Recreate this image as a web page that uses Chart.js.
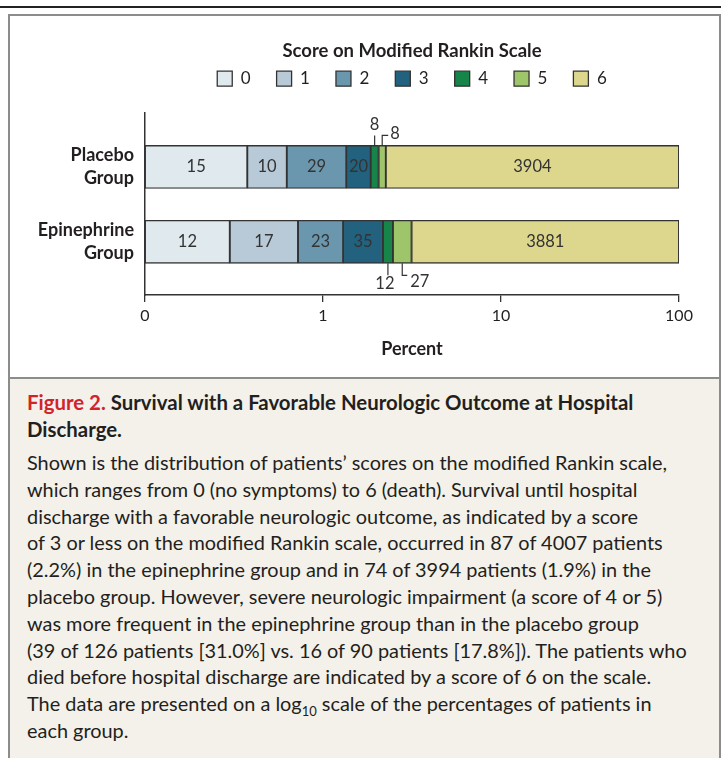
<!DOCTYPE html>
<html>
<head>
<meta charset="utf-8">
<script src="https://cdn.jsdelivr.net/npm/chart.js@4/dist/chart.umd.min.js"></script>
<style>
  body { margin: 0; background: #fff; font-family: Lato, "Open Sans", sans-serif; color: #231f20; }
  #topline { position: absolute; left: 0; top: 6px; width: 721px; height: 2px; background: #222; }
  #box { position: absolute; left: 8px; top: 14px; width: 709px; height: 760px; border: 2px solid #8c8c8c; border-bottom: none; }
  #panel { position: relative; width: 707px; height: 361px; background: #fff; }
  #caption { border-top: 2px solid #8c8c8c; background: #f4f1ea; height: 400px; padding: 10px 0 0 17px; box-sizing: border-box; }
  #caption .title { font-weight: bold; font-size: 20.4px; line-height: 27px; white-space: nowrap; }
  #caption .title span { color: #d2232a; }
  #caption .body { margin-top: 6px; font-size: 19.9px; line-height: 26.8px; white-space: nowrap; }
  #caption sub { font-size: 13px; line-height: 0; }
</style>
</head>
<body>
<div id="topline"></div>
<div id="box">
  <div id="panel"><canvas id="rankinChart" width="707" height="361"></canvas></div>
  <div id="caption">
    <div class="title"><span>Figure 2.</span> Survival with a Favorable Neurologic Outcome at Hospital<br>Discharge.</div>
    <div class="body">
      Shown is the distribution of patients’ scores on the modified Rankin scale,<br>
      which ranges from 0 (no symptoms) to 6 (death). Survival until hospital<br>
      discharge with a favorable neurologic outcome, as indicated by a score<br>
      of 3 or less on the modified Rankin scale, occurred in 87 of 4007 patients<br>
      (2.2%) in the epinephrine group and in 74 of 3994 patients (1.9%) in the<br>
      placebo group. However, severe neurologic impairment (a score of 4 or 5)<br>
      was more frequent in the epinephrine group than in the placebo group<br>
      (39 of 126 patients [31.0%] vs. 16 of 90 patients [17.8%]). The patients who<br>
      died before hospital discharge are indicated by a score of 6 on the scale.<br>
      The data are presented on a log<sub>10</sub> scale of the percentages of patients in<br>
      each group.
    </div>
  </div>
</div>

<script>
// dados
const scores = ['0', '1', '2', '3', '4', '5', '6'];
const groupLabels = [['Placebo', 'Group'], ['Epinephrine', 'Group']];
const placeboCounts = [15, 10, 29, 20, 8, 8, 3904];
const epinephrineCounts = [12, 17, 23, 35, 12, 27, 3881];
const xTicks = [0.1, 1, 10, 100];   // 0.1 is shown as "0"
const scoreColors = ['#dfe9ee', '#b8cad7', '#6b97ae', '#22627e', '#178449', '#9fc56b', '#ddd68d'];

// small segments labelled outside the bar (group index -> score -> style)
const callouts = [{ 4: 'up', 5: 'upRight' }, { 4: 'down', 5: 'downRight' }];

const FONT = 'Lato, "Open Sans", sans-serif';
const groups = [placeboCounts, epinephrineCounts];

function toPercent(counts) {
    const total = counts.reduce((a, b) => a + b, 0);
    return counts.map(c => c / total * 100);
}
const groupPercents = groups.map(toPercent);

const datasets = scores.map((s, k) => ({
    label: s,
    stack: 'all',
    data: groupPercents.map((p, i) => ({ x: p[k], y: i })),
    backgroundColor: scoreColors[k],
    borderColor: '#333',
    borderWidth: 1.3,
    borderSkipped: false,
    barThickness: 43
}));

// desenha os números dentro das barras e as chamadas dos segmentos pequenos
const countLabels = {
    id: 'countLabels',
    afterDatasetsDraw(chart) {
        const ctx = chart.ctx;
        ctx.save();
        ctx.fillStyle = '#333';
        ctx.strokeStyle = '#333';
        ctx.lineWidth = 1.2;
        ctx.font = '16.5px ' + FONT;
        chart.data.datasets.forEach((ds, k) => {
            const meta = chart.getDatasetMeta(k);
            meta.data.forEach((bar, i) => {
                const text = String(groups[i][k]);
                const cx = (bar.x + bar.base) / 2;
                const top = bar.y - bar.height / 2;
                const bottom = bar.y + bar.height / 2;
                const style = callouts[i][k];
                ctx.beginPath();
                if (!style) {
                    ctx.textAlign = 'center';
                    ctx.textBaseline = 'middle';
                    ctx.fillText(text, cx, bar.y);
                } else if (style === 'up') {
                    ctx.moveTo(cx, top); ctx.lineTo(cx, top - 10); ctx.stroke();
                    ctx.textAlign = 'center'; ctx.textBaseline = 'middle';
                    ctx.fillText(text, cx, top - 21);
                } else if (style === 'upRight') {
                    ctx.moveTo(cx, top); ctx.lineTo(cx, top - 10); ctx.lineTo(cx + 6, top - 10); ctx.stroke();
                    ctx.textAlign = 'left'; ctx.textBaseline = 'middle';
                    ctx.fillText(text, cx + 8, top - 12);
                } else if (style === 'down') {
                    ctx.moveTo(cx, bottom); ctx.lineTo(cx, bottom + 12); ctx.stroke();
                    ctx.textAlign = 'center'; ctx.textBaseline = 'middle';
                    ctx.fillText(text, cx - 3, bottom + 20);
                } else if (style === 'downRight') {
                    ctx.moveTo(cx, bottom); ctx.lineTo(cx, bottom + 12); ctx.lineTo(cx + 5, bottom + 12); ctx.stroke();
                    ctx.textAlign = 'left'; ctx.textBaseline = 'middle';
                    ctx.fillText(text, cx + 8, bottom + 18);
                }
            });
        });
        ctx.restore();
    }
};

const rankinChart = new Chart(document.getElementById('rankinChart'), {
    type: 'bar',
    data: { datasets },
    plugins: [countLabels],
    options: {
        indexAxis: 'y',
        responsive: false,
        animation: false,
        layout: { padding: { top: 26, right: 38, bottom: 12.7, left: 0 } },
        plugins: {
            tooltip: { enabled: false },
            legend: {
                position: 'top',
                align: 'center',
                fullSize: false,
                title: {
                    display: true,
                    text: 'Score on Modified Rankin Scale',
                    color: '#231f20',
                    font: { family: FONT, size: 18.5, weight: 'bold', lineHeight: 1.2 },
                    padding: { top: 0, bottom: -20 }
                },
                labels: {
                    color: '#231f20',
                    boxWidth: 15,
                    boxHeight: 15,
                    padding: 26,
                    font: { family: FONT, size: 17 }
                }
            },
            // empty block that keeps a gap between the legend and the bars
            subtitle: {
                display: true,
                text: '',
                weight: 500,
                fullSize: false,
                font: { size: 10, lineHeight: 1 },
                padding: { top: 5.8, bottom: 0 }
            }
        },
        scales: {
            x: {
                type: 'logarithmic',
                stacked: true,
                min: 0.1,
                max: 100,
                afterBuildTicks: scale => { scale.ticks = xTicks.map(v => ({ value: v })); },
                ticks: {
                    color: '#231f20',
                    font: { family: FONT, size: 16 },
                    padding: 4,
                    autoSkip: false,
                    maxRotation: 0,
                    callback: v => (v === 0.1 ? '0' : String(v))
                },
                grid: { drawOnChartArea: false, drawTicks: true, tickLength: 7, color: '#333', lineWidth: 1.3 },
                border: { display: true, color: '#333', width: 1.5 },
                title: {
                    display: true,
                    text: 'Percent',
                    color: '#231f20',
                    font: { family: FONT, size: 18, weight: 'bold' },
                    padding: { top: 9.5 }
                }
            },
            y: {
                type: 'linear',
                reverse: true,
                offset: false,
                min: -0.72,
                max: 1.71,
                afterBuildTicks: scale => { scale.ticks = groupLabels.map((g, i) => ({ value: i })); },
                afterFit: scale => { scale.width = 135; },
                ticks: {
                    color: '#231f20',
                    font: { family: FONT, size: 18, weight: 'bold', lineHeight: 1.3 },
                    padding: 11,
                    callback: v => groupLabels[v]
                },
                grid: { display: false, drawTicks: false },
                border: { display: true, color: '#333', width: 1.5 }
            }
        }
    }
});
</script>
</body>
</html>
